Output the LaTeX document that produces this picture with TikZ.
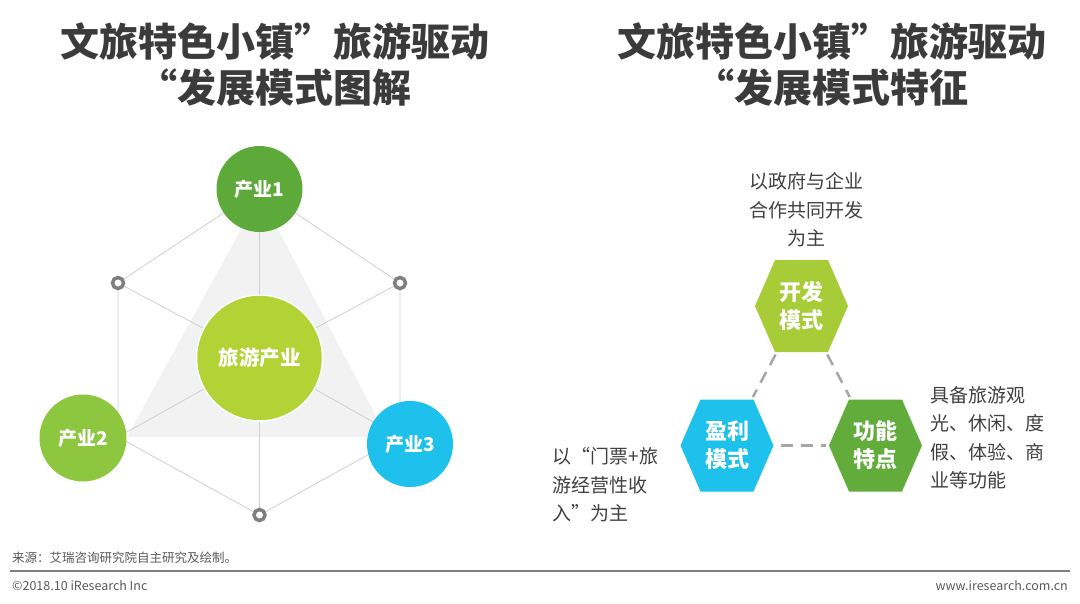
\documentclass[tikz,border=0pt]{standalone}
\usepackage{fontspec}
\setmainfont{Noto Sans CJK SC}
\usetikzlibrary{calc}

\tikzset{
    indCircle/.style={circle, minimum size=86pt, inner sep=0pt, text=white, font=\bfseries\fontsize{19}{21}\selectfont},
    ringNode/.style={circle, draw=ringColour, line width=3.5pt, fill=white, minimum size=11pt, inner sep=0pt},
    gridLine/.style={draw=lineColour, line width=0.8pt},
    linkLine/.style={draw=linkColour, line width=2.5pt, dash pattern=on 12pt off 8pt, shorten <=55pt, shorten >=55pt},
    hexText/.style={text=white, inner sep=0pt, align=center, font=\bfseries\fontsize{22}{28}\selectfont},
    noteText/.style={text=noteColour, inner sep=0pt, font=\fontsize{19}{28.5}\selectfont},
    titleText/.style={text=titleColour, inner sep=0pt, align=center, font=\bfseries\fontsize{39}{46}\selectfont},
    footText/.style={text=footColour, inner sep=0pt, font=\fontsize{12.5}{14}\selectfont}
}

\begin{document}
\begin{tikzpicture}[x=1pt, y=-1pt]
    % Define colours
    \definecolor{titleColour}{HTML}{3B3B3B}
    \definecolor{noteColour}{HTML}{404040}
    \definecolor{footColour}{HTML}{595959}
    \definecolor{lineColour}{HTML}{CFCFCF}
    \definecolor{ringColour}{HTML}{7F7F7F}
    \definecolor{linkColour}{HTML}{A6A6A6}
    \definecolor{triColour}{HTML}{F2F2F2}
    \definecolor{indOneColour}{HTML}{5DAA3A}
    \definecolor{indTwoColour}{HTML}{8DC63F}
    \definecolor{indThreeColour}{HTML}{1EC0EC}
    \definecolor{tourColour}{HTML}{B3D235}
    \definecolor{devColour}{HTML}{A8CC38}
    \definecolor{profColour}{HTML}{1EC0EC}
    \definecolor{funcColour}{HTML}{62AC3C}

    \useasboundingbox (0,0) rectangle (1080,603);

    % Titles
    \node[titleText] (titleL) at (275,65) {文旅特色小镇”旅游驱动\\“发展模式图解};
    \node[titleText] (titleR) at (832,65) {文旅特色小镇”旅游驱动\\“发展模式特征};

    % Vertices of the hexagon frame
    \coordinate (vTop) at (259.5,189);
    \coordinate (vUL) at (118,283);
    \coordinate (vUR) at (400,283);
    \coordinate (vLL) at (118,437);
    \coordinate (vLR) at (400,437);
    \coordinate (vBot) at (259.5,515);
    \coordinate (vMid) at (259.5,358);

    % Shaded triangle behind the centre
    \fill[triColour] (260,195) -- (127,437) -- (387,437) -- cycle;

    % Draw frame and spokes
    \draw[gridLine] (vTop) -- (vUL) -- (vLL) -- (vBot) -- (vLR) -- (vUR) -- cycle;
    \foreach \v in {vTop,vUL,vUR,vLL,vLR,vBot}
        \draw[gridLine] (vMid) -- (\v);

    % Rings on the free corners
    \node[ringNode] (ringUL) at (vUL) {};
    \node[ringNode] (ringUR) at (vUR) {};
    \node[ringNode] (ringBot) at (vBot) {};

    % Industry circles
    \node[indCircle, fill=indOneColour] (ind1) at (vTop) {产业1};
    \node[indCircle, fill=indTwoColour, minimum size=87pt] (ind2) at (83,438) {产业2};
    \node[indCircle, fill=indThreeColour] (ind3) at (410,444) {产业3};
    \node[indCircle, fill=tourColour, draw=white, line width=1.5pt, minimum size=126pt,
          font=\bfseries\fontsize{20.5}{22}\selectfont] (tour) at (vMid) {旅游产业};

    % Hexagon centres
    \coordinate (devC) at (801.5,306);
    \coordinate (profC) at (727,445.5);
    \coordinate (funcC) at (875.5,445.5);

    % Draw the hexagons
    \foreach \c/\col in {devC/devColour, profC/profColour, funcC/funcColour}
        \fill[\col] ($(\c)+(-46.5,0)$) -- ($(\c)+(-26.5,-46)$) -- ($(\c)+(26.5,-46)$)
            -- ($(\c)+(46.5,0)$) -- ($(\c)+(26.5,46)$) -- ($(\c)+(-26.5,46)$) -- cycle;

    \node[hexText] (dev) at (devC) {开发\\模式};
    \node[hexText] (prof) at (profC) {盈利\\模式};
    \node[hexText] (func) at (funcC) {功能\\特点};

    % Dashed links
    \draw[linkLine] (dev.center) -- (prof.center);
    \draw[linkLine] (dev.center) -- (func.center);
    \draw[linkLine, shorten <=54pt, shorten >=50pt] (prof.center) -- (func.center);

    % Notes
    \node[noteText, align=center] (devNote) at (806.5,210) {以政府与企业\\合作共同开发\\为主};
    \node[noteText, align=left, anchor=west] (funcNote) at (930.5,438) {具备旅游观\\光、休闲、度\\假、体验、商\\业等功能};
    \node[noteText, align=left, anchor=west] (profNote) at (552.5,485) {以“门票+旅\\游经营性收\\入”为主};

    % Footer
    \node[footText, anchor=west] (source) at (12,558) {来源：艾瑞咨询研究院自主研究及绘制。};
    \draw[ringColour, line width=1.5pt] (10,571) -- (1070,571);
    \node[footText, anchor=west] (copy) at (12,586) {©2018.10 iResearch Inc};
    \node[footText, anchor=east] (site) at (1068,586) {www.iresearch.com.cn};
\end{tikzpicture}
\end{document}
